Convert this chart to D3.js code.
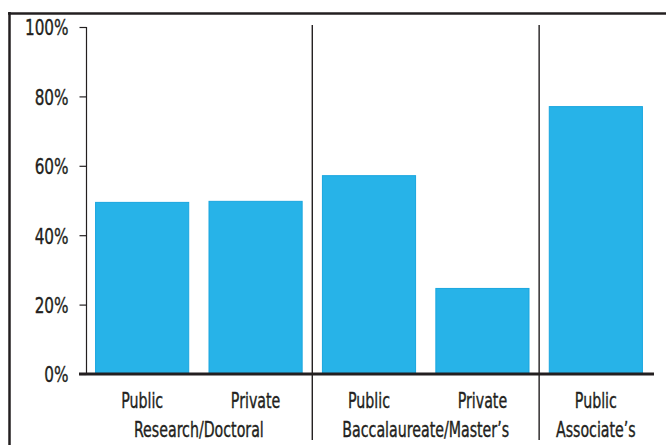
<!DOCTYPE html>
<html>
<head>
<meta charset="utf-8">
<script src="https://cdn.jsdelivr.net/npm/d3@7/dist/d3.min.js"></script>
<style>
  html, body { margin: 0; padding: 0; background: #fff; }
  svg { display: block; }
  text { font-family: "DejaVu Sans Condensed", "Liberation Sans Narrow", sans-serif; fill: #231f20; stroke: #231f20; stroke-width: 0.35px; }
</style>
</head>
<body>
<svg id="chart" width="666" height="445"></svg>
<script>
// Share of institutions, by control within each institution type
const sectors = ["Public", "Private", "Public", "Private", "Public"];
const groups = ["Research/Doctoral", "Research/Doctoral", "Baccalaureate/Master\u2019s", "Baccalaureate/Master\u2019s", "Associate\u2019s"];
const values = [49.6, 49.9, 57.3, 24.8, 77.2];
const yTicks = [0, 20, 40, 60, 80, 100];

const svg = d3.select("#chart");
const ink = "#231f20";
const barFill = "#27b3e8";
const barEdge = "#19a6df";
const squeeze = 0.77; // horizontal squeeze for a narrow typeface look

const keys = values.map((_, i) => i);
const x = d3.scaleBand().domain(keys).range([86, 652]).paddingInner(0.17).paddingOuter(0.08);
const y = d3.scaleLinear().domain([0, 100]).range([374, 27]);

// Outer frame: left and top rules
svg.append("line").attr("x1", 9.5).attr("x2", 9.5).attr("y1", 12).attr("y2", 445)
  .attr("stroke", ink).attr("stroke-width", 2.5);
svg.append("line").attr("x1", 8).attr("x2", 666).attr("y1", 13.5).attr("y2", 13.5)
  .attr("stroke", ink).attr("stroke-width", 2.5);

// Bars
svg.append("g").selectAll("rect").data(keys).join("rect")
  .attr("x", i => x(i) + 0.5)
  .attr("y", i => y(values[i]) + 0.5)
  .attr("width", x.bandwidth() - 1)
  .attr("height", i => y(0) - y(values[i]) - 0.5)
  .attr("fill", barFill)
  .attr("stroke", barEdge)
  .attr("stroke-width", 1);

// Y axis
const yAxis = d3.axisLeft(y).tickValues(yTicks).tickFormat(d => d + "%").tickSize(7).tickPadding(11);
const gy = svg.append("g").attr("transform", "translate(86.5,0)").call(yAxis);
gy.select(".domain").attr("stroke", ink).attr("stroke-width", 1.2).attr("d", "M0,27V374");
gy.selectAll(".tick line").attr("stroke", ink).attr("stroke-width", 1.2);
gy.selectAll(".tick text")
  .attr("font-size", 22).attr("fill", ink)
  .attr("font-family", "'DejaVu Sans Condensed', sans-serif")
  .attr("x", 0).attr("dy", "0.36em")
  .attr("transform", `translate(-18,0) scale(${squeeze},1)`);

// Group separators, halfway between neighbouring groups
const boundaries = keys.slice(1).filter(i => groups[i] !== groups[i - 1]);
svg.append("g").selectAll("line").data(boundaries).join("line")
  .attr("x1", i => (x(i - 1) + x.bandwidth() + x(i)) / 2)
  .attr("x2", i => (x(i - 1) + x.bandwidth() + x(i)) / 2)
  .attr("y1", 25).attr("y2", 440)
  .attr("stroke", ink).attr("stroke-width", 1.4);

// Baseline
svg.append("line").attr("x1", 79).attr("x2", 654).attr("y1", y(0)).attr("y2", y(0))
  .attr("stroke", ink).attr("stroke-width", 2.8);

// Sector labels
svg.append("g").selectAll("text").data(keys).join("text")
  .attr("transform", i => `translate(${x(i) + x.bandwidth() / 2},408) scale(${squeeze},1)`)
  .attr("text-anchor", "middle")
  .attr("font-size", 20.5)
  .text(i => sectors[i]);

// Group labels, centred under their bars
const groupNames = Array.from(new Set(groups));
svg.append("g").selectAll("text").data(groupNames).join("text")
  .attr("transform", g => {
    const idx = keys.filter(i => groups[i] === g);
    const cx = (x(idx[0]) + x(idx[idx.length - 1]) + x.bandwidth()) / 2;
    return `translate(${cx},437) scale(${squeeze},1)`;
  })
  .attr("text-anchor", "middle")
  .attr("font-size", 20.5)
  .text(g => g);
</script>
</body>
</html>
